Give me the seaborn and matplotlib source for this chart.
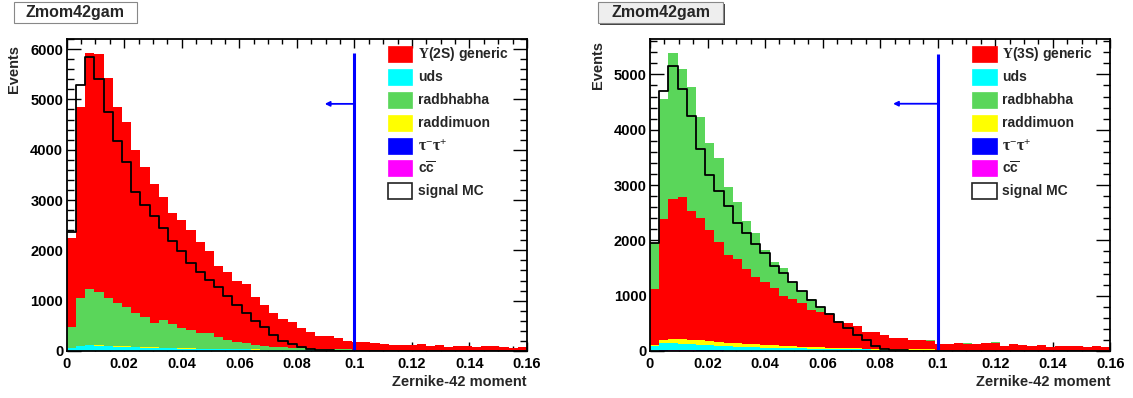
import numpy as np
import pandas as pd
import matplotlib
matplotlib.use("Agg")
import matplotlib.pyplot as plt
import seaborn as sns
from matplotlib.patches import Rectangle
from matplotlib.ticker import MultipleLocator, FuncFormatter

# ---------------------------------------------------------------- binning
x_min, x_max, n_bins = 0.0, 0.16, 50
bin_width = (x_max - x_min) / n_bins
centers = x_min + bin_width * (np.arange(n_bins) + 0.5)

# ---------------------------------------------------------------- Upsilon(2S) sample
gen2s = [1780, 3790, 4685, 4718, 4374, 3897, 3691, 3241, 2989, 2750,
         2452, 2213, 2147, 2001, 1809, 1637, 1418, 1352, 1213, 1173,
         961, 821, 676, 558, 521, 398, 332, 258, 262, 220,
         175, 158, 153, 142, 117, 99, 100, 108, 122, 83,
         98, 72, 86, 81, 74, 82, 88, 63, 56, 76]
bhabha2s = [415, 955, 1117, 1068, 946, 860, 778, 673, 593, 493,
            544, 468, 400, 358, 302, 312, 236, 185, 142, 117,
            87, 71, 59, 48, 41, 32, 27, 23, 20, 17,
            16, 14, 13, 12, 11, 9, 9, 8, 7, 7,
            6, 5, 5, 4, 4, 3, 4, 3, 3, 3]
dimu2s = [2, 5, 6, 7, 8, 9, 10, 10, 10, 10,
          9, 9, 8, 8, 7, 7, 6, 6, 5, 5,
          4, 4, 4, 3, 3, 3, 3, 2, 2, 2,
          2, 2, 2, 1, 1, 1, 1, 1, 1, 1,
          1, 1, 1, 1, 1, 1, 1, 1, 1, 1]
uds2s = [50, 95, 105, 100, 88, 80, 75, 68, 62, 56,
         54, 50, 46, 42, 40, 37, 34, 32, 30, 28,
         26, 24, 22, 20, 18, 17, 16, 15, 14, 13,
         12, 12, 11, 11, 10, 10, 9, 9, 9, 8,
         8, 8, 7, 7, 7, 7, 6, 6, 6, 6]
tau2s = [2, 3, 3, 3, 3, 3, 3, 2, 2, 2,
         2, 2, 2, 2, 1, 1, 1, 1, 1, 1,
         1, 1, 1, 1, 0, 0, 0, 0, 0, 0,
         0, 0, 0, 0, 0, 0, 0, 0, 0, 0,
         0, 0, 0, 0, 0, 0, 0, 0, 0, 0]
cc2s = [1, 2, 2, 2, 2, 2, 2, 2, 2, 2,
        1, 1, 1, 1, 1, 1, 1, 1, 1, 1,
        1, 0, 0, 0, 0, 0, 0, 0, 0, 0,
        0, 0, 0, 0, 0, 0, 0, 0, 0, 0,
        0, 0, 0, 0, 0, 0, 0, 0, 0, 0]
signal2s = [2360, 5290, 5851, 5401, 4751, 4182, 3764, 3161, 2896, 2684,
            2452, 2187, 1995, 1743, 1564, 1412, 1272, 1100, 921, 755,
            596, 471, 318, 205, 135, 70, 35, 20, 12, 8,
            5, 3, 3, 2, 2, 2, 1, 1, 1, 1,
            1, 1, 0, 0, 0, 0, 0, 0, 0, 0]

# ---------------------------------------------------------------- Upsilon(3S) sample
gen3s = [1006, 2187, 2530, 2572, 2331, 2199, 2006, 1813, 1584, 1524,
         1344, 1223, 1127, 1037, 898, 844, 783, 669, 645, 603,
         468, 448, 404, 298, 301, 249, 198, 200, 166, 168,
         158, 100, 101, 114, 109, 104, 117, 130, 64, 108,
         84, 73, 86, 51, 75, 76, 70, 59, 77, 54]
bhabha3s = [844, 2174, 2627, 2319, 2235, 1837, 1578, 1506, 1235, 1030,
            873, 796, 578, 463, 506, 307, 229, 193, 90, 17,
            16, 10, 8, 7, 6, 6, 5, 5, 4, 4,
            3, 3, 3, 3, 3, 3, 3, 3, 3, 3,
            3, 3, 3, 3, 3, 3, 3, 3, 3, 3]
dimu3s = [18, 60, 84, 81, 85, 85, 73, 73, 67, 61,
          60, 54, 52, 50, 42, 40, 32, 30, 26, 23,
          21, 19, 18, 17, 16, 15, 14, 13, 12, 11,
          10, 9, 9, 9, 9, 8, 8, 7, 7, 6,
          6, 5, 5, 4, 5, 4, 4, 4, 4, 3]
uds3s = [84, 127, 124, 115, 105, 101, 96, 79, 75, 70,
         64, 59, 56, 53, 49, 45, 42, 38, 37, 34,
         32, 31, 28, 26, 24, 23, 21, 20, 19, 18,
         19, 18, 17, 16, 15, 15, 14, 14, 13, 13,
         12, 12, 11, 11, 10, 10, 10, 9, 9, 9]
tau3s = [2, 4, 5, 5, 5, 4, 4, 4, 3, 3,
         3, 3, 2, 2, 2, 2, 2, 2, 1, 1,
         1, 1, 1, 1, 1, 1, 1, 1, 1, 1,
         0, 0, 0, 0, 0, 0, 0, 0, 0, 0,
         0, 0, 0, 0, 0, 0, 0, 0, 0, 0]
cc3s = [4, 8, 10, 10, 10, 9, 8, 7, 6, 5,
        5, 4, 4, 3, 3, 3, 2, 2, 2, 2,
        2, 1, 1, 1, 1, 1, 1, 1, 1, 1,
        0, 0, 0, 0, 0, 0, 0, 0, 0, 0,
        0, 0, 0, 0, 0, 0, 0, 0, 0, 0]
signal3s = [1950, 4705, 5151, 4729, 4247, 3645, 3187, 2892, 2627, 2319,
            2127, 1928, 1765, 1542, 1404, 1247, 1090, 922, 801, 663,
            530, 416, 295, 199, 90, 42, 18, 10, 6, 4,
            3, 2, 2, 1, 1, 1, 1, 1, 0, 0,
            0, 0, 0, 0, 0, 0, 0, 0, 0, 0]

# cut position and the arrow marking the selected side
cut_value = 0.1
cut_line_top = [5918, 5370]
arrow_y = [4911, 4470]
arrow_tip = [0.0897, 0.0845]
y_max = [6200, 5640]

hist_title = "Zmom42gam"
x_label = "Zernike-42 moment"
y_label = "Events"

colors = {
    "generic": "#ff0000",
    "uds": "#00ffff",
    "radbhabha": "#5ad65a",
    "raddimuon": "#ffff00",
    "tautau": "#0000ff",
    "ccbar": "#ff00ff",
}

# ---------------------------------------------------------------- style
sns.set_style("ticks")
plt.rcParams["font.family"] = ["Liberation Sans", "DejaVu Sans"]
plt.rcParams["font.weight"] = "bold"
plt.rcParams["mathtext.fontset"] = "custom"
plt.rcParams["mathtext.rm"] = "Liberation Serif"
plt.rcParams["mathtext.it"] = "Liberation Serif:italic"
plt.rcParams["mathtext.bf"] = "Liberation Sans:bold"

W, H = 1133, 398
fig = plt.figure(figsize=(W / 100, H / 100), dpi=100)
fig.patch.set_facecolor("white")

ax_left_px = [66.7, 650.0]
ax_w_px = 460.3
ax_top_px, ax_bot_px = 39.0, 351.0
axes = []
for lp in ax_left_px:
    axes.append(fig.add_axes([lp / W, 1 - ax_bot_px / H, ax_w_px / W,
                              (ax_bot_px - ax_top_px) / H]))

panels = [
    dict(stack=[("generic", gen2s), ("radbhabha", bhabha2s), ("raddimuon", dimu2s),
                ("uds", uds2s), ("tautau", tau2s), ("ccbar", cc2s)],
         signal=signal2s, gen_label=r"$\Upsilon$(2S) generic"),
    dict(stack=[("radbhabha", bhabha3s), ("generic", gen3s), ("raddimuon", dimu3s),
                ("uds", uds3s), ("tautau", tau3s), ("ccbar", cc3s)],
         signal=signal3s, gen_label=r"$\Upsilon$(3S) generic"),
]

for i, (ax, p) in enumerate(zip(axes, panels)):
    frames = [pd.DataFrame({"x": centers, "w": np.asarray(vals, float), "comp": name})
              for name, vals in p["stack"]]
    df = pd.concat(frames, ignore_index=True)
    order = [name for name, _ in p["stack"]]  # first level ends on top
    sns.histplot(data=df, x="x", weights="w", hue="comp", hue_order=order,
                 palette=colors, bins=n_bins, binrange=(x_min, x_max),
                 multiple="stack", element="step", fill=True, alpha=1.0,
                 linewidth=0, legend=False, ax=ax)
    sig = pd.DataFrame({"x": centers, "w": np.asarray(p["signal"], float)})
    sns.histplot(data=sig, x="x", weights="w", bins=n_bins, binrange=(x_min, x_max),
                 element="step", fill=False, color="black", linewidth=1.3, ax=ax)

    # selection cut
    ax.plot([cut_value, cut_value], [0, cut_line_top[i]], color="#0000ff", lw=2.2,
            solid_capstyle="butt", zorder=5)
    ax.annotate("", xy=(arrow_tip[i], arrow_y[i]), xytext=(cut_value, arrow_y[i]),
                arrowprops=dict(arrowstyle="-|>", color="#0000ff", lw=1.3,
                                mutation_scale=7, shrinkA=0, shrinkB=0), zorder=5)

    ax.set_xlim(x_min, x_max)
    ax.set_ylim(0, y_max[i])
    ax.set_xlabel("")
    ax.set_ylabel("")
    ax.xaxis.set_major_locator(MultipleLocator(0.02))
    ax.xaxis.set_minor_locator(MultipleLocator(0.005))
    ax.yaxis.set_major_locator(MultipleLocator(1000))
    ax.yaxis.set_minor_locator(MultipleLocator(200))
    ax.xaxis.set_major_formatter(FuncFormatter(lambda v, pos: f"{v:g}"))
    ax.tick_params(which="both", direction="in", top=True, right=True,
                   width=1.0, labelsize=10.5, colors="black")
    ax.tick_params(axis="x", which="major", length=6.5, pad=4)
    ax.tick_params(axis="x", which="minor", length=3.5)
    ax.tick_params(axis="y", which="major", length=10, pad=2.5)
    ax.tick_params(axis="y", which="minor", length=5)
    for lab in ax.get_xticklabels() + ax.get_yticklabels():
        lab.set_fontweight("bold")
    for sp in ax.spines.values():
        sp.set_linewidth(1.3)
        sp.set_color("black")
        sp.set_zorder(6)

    # axis titles
    ax.text(1.0, -0.099, x_label, transform=ax.transAxes, ha="right", va="center",
            fontsize=10.5, fontweight="bold")
    ax.text(-0.1135, 0.904 if i == 0 else 0.918, y_label, transform=ax.transAxes,
            rotation=90, ha="center", va="center", fontsize=10.5, fontweight="bold")

    # legend
    entries = [(p["gen_label"], colors["generic"], 10), ("uds", colors["uds"], 10),
               ("radbhabha", colors["radbhabha"], 10),
               ("raddimuon", colors["raddimuon"], 10),
               (r"$\mathrm{\tau}^{-}\mathrm{\tau}^{+}$", colors["tautau"], 11.5),
               (r"$\mathbf{c\overline{c}}$", colors["ccbar"], 10),
               ("signal MC", "white", 10)]
    bx = 0.698 if i == 0 else 0.700
    bw, bh = 24.5 / ax_w_px, 16.0 / 312
    tx = bx + bw + 5.5 / ax_w_px
    for k, (lab, col, fs) in enumerate(entries):
        yc = 0.951 - k * 0.0732
        edge = "#222222" if col == "white" else col
        ax.add_patch(Rectangle((bx, yc - bh / 2), bw, bh, transform=ax.transAxes,
                               facecolor=col, edgecolor=edge,
                               lw=1.2 if col == "white" else 0.5, zorder=7))
        ax.text(tx, yc, lab, transform=ax.transAxes, ha="left", va="center",
                fontsize=fs, fontweight="bold", zorder=7)

# histogram title boxes (white on the left, grey with a drop shadow on the right)
title_boxes = [(14, 137, "white", "#777777", 1.0), (598, 723, "#eeeeee", "#444444", 2.0)]
for x0, x1, fc, shadow, off in title_boxes:
    y0, y1 = 2, 23
    fig.add_artist(Rectangle(((x0 + off) / W, 1 - (y1 + off) / H), (x1 - x0) / W,
                             (y1 - y0) / H, transform=fig.transFigure,
                             facecolor=shadow, edgecolor="none"))
    fig.add_artist(Rectangle((x0 / W, 1 - y1 / H), (x1 - x0) / W, (y1 - y0) / H,
                             transform=fig.transFigure, facecolor=fc,
                             edgecolor="#888888", lw=0.8))
    fig.text((x0 + x1) / 2 / W, 1 - (y0 + y1) / 2 / H, hist_title, ha="center",
             va="center", fontsize=11.5, fontweight="bold")

fig.savefig("out.png", dpi=100, facecolor="white")
